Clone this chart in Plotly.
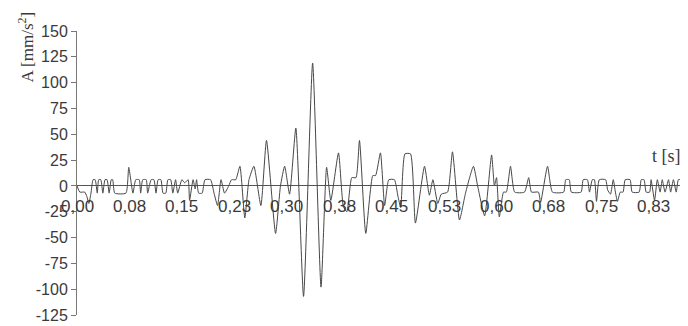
import plotly.graph_objects as go

# time [ms] and acceleration [mm/s^2]
t_ms = [0, 4, 11, 14, 17, 20, 23, 26, 29, 31, 34, 37, 40, 43, 46, 49, 51, 54, 70, 74,
        80, 84, 89, 91, 94, 99, 101, 106, 110, 113, 116, 120, 123, 127, 130, 134, 137, 141, 144, 150,
        154, 159, 161, 166, 169, 171, 174, 179, 183, 191, 196, 201, 206, 211, 217, 221, 227, 233, 240, 246,
        253, 263, 271, 284, 291, 297, 304, 313, 324, 337, 349, 357, 363, 374, 381, 386, 393, 399, 404, 413,
        423, 427, 434, 440, 446, 454, 459, 463, 469, 477, 484, 497, 504, 509, 516, 521, 530, 537, 547, 556,
        567, 573, 583, 593, 597, 600, 604, 610, 614, 620, 626, 640, 646, 650, 660, 663, 673, 680, 696, 699,
        704, 707, 721, 724, 730, 733, 737, 740, 743, 747, 756, 759, 763, 767, 770, 773, 777, 781, 784, 791,
        794, 804, 807, 811, 814, 819, 821, 826, 830, 834, 837, 841, 846, 849, 853, 857, 860, 863, 866, 869]
accel = [0, -6, -6, -10, -17, -7, 6, 6, -7, 6, 6, -7, 6, 6, -7, 6, 6, -7, -7, 18,
         -7, 6, 6, -7, 6, 6, -7, 6, 6, -7, 6, 6, -7, -7, 6, 6, -7, 6, -7, 6,
         3, 6, -14, 6, -3, 6, -7, -7, 6, 6, -7, -19, 6, -7, 0, 6, 6, 19, -31, 6,
         19, -19, 44, -46, 0, 19, -8, 56, -107, 119, -98, 18, -14, 32, -20, -25, 8, 8, 44, -46,
         10, 10, 32, -19, 6, 6, -10, -21, 31, 31, -36, 19, -9, 6, -17, -8, -6, 33, -33, -6,
         19, 0, -29, 30, 0, 8, -30, -6, -6, 19, -6, -6, 8, -6, -6, -16, 19, -6, -6, 6,
         6, -6, -6, 6, 6, -6, 6, 6, -15, 6, 6, -4, -8, 6, -6, -15, -6, -6, 6, 6,
         -6, -6, 6, 6, -6, -6, 6, -14, 6, -6, 6, -6, 6, -6, 6, -6, 6, 6, -6, -4]

x_tick_vals = [0, 0.075, 0.15, 0.225, 0.30, 0.375, 0.45, 0.525, 0.60, 0.675, 0.75, 0.825]
x_tick_text = ["0,00", "0,08", "0,15", "0,23", "0,30", "0,38", "0,45", "0,53", "0,60", "0,68", "0,75", "0,83"]
y_tick_vals = [150, 125, 100, 75, 50, 25, 0, -25, -50, -75, -100, -125]

t_s = [v / 1000 for v in t_ms]

fig = go.Figure()
fig.add_trace(go.Scatter(x=t_s, y=accel, mode="lines",
                         line=dict(color="#474747", width=1, shape="spline", smoothing=0.5),
                         hoverinfo="skip"))

sans = "Liberation Sans, Arial, sans-serif"
serif = "Liberation Serif, Times New Roman, serif"

annotations = []
for v, txt in zip(x_tick_vals, x_tick_text):
    annotations.append(dict(x=v, y=0, xref="x", yref="y", text=txt, showarrow=False,
                            xanchor="center", yanchor="top", yshift=-9,
                            font=dict(family=sans, size=17, color="#3a3a3a")))
annotations.append(dict(x=-0.084, y=0.945, xref="paper", yref="paper",
                        text="A [mm/s<sup>2</sup>]", textangle=-90, showarrow=False,
                        xanchor="center", yanchor="middle",
                        font=dict(family=serif, size=17, color="#3a3a3a")))
annotations.append(dict(x=0.866, y=29, xref="x", yref="y", text="t [s]", showarrow=False,
                        xanchor="right", yanchor="middle",
                        font=dict(family=serif, size=18, color="#3a3a3a")))

fig.update_layout(
    width=688, height=326,
    margin=dict(l=69, r=10, t=23, b=12),
    paper_bgcolor="white", plot_bgcolor="white",
    showlegend=False,
    annotations=annotations,
    xaxis=dict(range=[0, 0.871], showgrid=False, showticklabels=False, ticks="",
               zeroline=False, showline=False),
    yaxis=dict(range=[-125, 150], tickvals=y_tick_vals,
               ticktext=[str(v) for v in y_tick_vals],
               showgrid=False, zeroline=True, zerolinecolor="#555555", zerolinewidth=1,
               showline=True, linecolor="#777777", linewidth=1,
               ticks="outside", ticklen=5, tickcolor="#777777",
               tickfont=dict(family=sans, size=16, color="#3a3a3a")),
)

fig.write_html("out.html")
